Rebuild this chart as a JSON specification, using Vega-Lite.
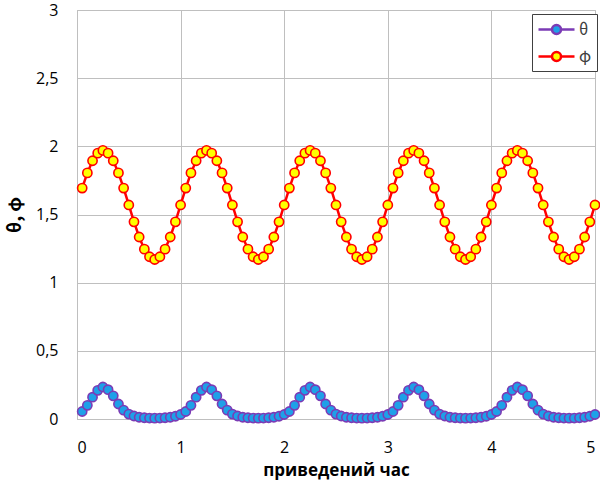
{
  "$schema": "https://vega.github.io/schema/vega-lite/v6.json",
  "width": 518,
  "height": 409,
  "autosize": "none",
  "padding": {"left": 77, "top": 10, "right": 5, "bottom": 64},
  "background": "white",
  "config": {
    "font": "Open Sans",
    "view": {"stroke": "#BFBFBF", "strokeWidth": 1},
    "axis": {"gridColor": "#BFBFBF", "gridWidth": 1, "domainColor": "#BFBFBF", "ticks": false, "labelFont": "Open Sans", "labelFontSize": 16, "labelColor": "#000000", "titleFont": "Open Sans", "titleFontSize": 17, "titleFontWeight": "bold", "titleColor": "#000000"}
  },
  "data": {"values": [
    {"x":0.05,"θ":0.055,"φ":1.694},{"x":0.10,"θ":0.10,"φ":1.805},{"x":0.15,"θ":0.16,"φ":1.894},{"x":0.20,"θ":0.21,"φ":1.950},{"x":0.25,"θ":0.235,"φ":1.970},
    {"x":0.30,"θ":0.215,"φ":1.950},{"x":0.35,"θ":0.17,"φ":1.894},{"x":0.40,"θ":0.11,"φ":1.805},{"x":0.45,"θ":0.065,"φ":1.694},{"x":0.50,"θ":0.036,"φ":1.570},
    {"x":0.55,"θ":0.022,"φ":1.446},{"x":0.60,"θ":0.013,"φ":1.335},{"x":0.65,"θ":0.009,"φ":1.246},{"x":0.70,"θ":0.007,"φ":1.190},{"x":0.75,"θ":0.006,"φ":1.170},
    {"x":0.80,"θ":0.007,"φ":1.190},{"x":0.85,"θ":0.009,"φ":1.246},{"x":0.90,"θ":0.013,"φ":1.335},{"x":0.95,"θ":0.02,"φ":1.446},{"x":1.00,"θ":0.033,"φ":1.570},
    {"x":1.05,"θ":0.055,"φ":1.694},{"x":1.10,"θ":0.10,"φ":1.805},{"x":1.15,"θ":0.16,"φ":1.894},{"x":1.20,"θ":0.21,"φ":1.950},{"x":1.25,"θ":0.235,"φ":1.970},
    {"x":1.30,"θ":0.215,"φ":1.950},{"x":1.35,"θ":0.17,"φ":1.894},{"x":1.40,"θ":0.11,"φ":1.805},{"x":1.45,"θ":0.065,"φ":1.694},{"x":1.50,"θ":0.036,"φ":1.570},
    {"x":1.55,"θ":0.022,"φ":1.446},{"x":1.60,"θ":0.013,"φ":1.335},{"x":1.65,"θ":0.009,"φ":1.246},{"x":1.70,"θ":0.007,"φ":1.190},{"x":1.75,"θ":0.006,"φ":1.170},
    {"x":1.80,"θ":0.007,"φ":1.190},{"x":1.85,"θ":0.009,"φ":1.246},{"x":1.90,"θ":0.013,"φ":1.335},{"x":1.95,"θ":0.02,"φ":1.446},{"x":2.00,"θ":0.033,"φ":1.570},
    {"x":2.05,"θ":0.055,"φ":1.694},{"x":2.10,"θ":0.10,"φ":1.805},{"x":2.15,"θ":0.16,"φ":1.894},{"x":2.20,"θ":0.21,"φ":1.950},{"x":2.25,"θ":0.235,"φ":1.970},
    {"x":2.30,"θ":0.215,"φ":1.950},{"x":2.35,"θ":0.17,"φ":1.894},{"x":2.40,"θ":0.11,"φ":1.805},{"x":2.45,"θ":0.065,"φ":1.694},{"x":2.50,"θ":0.036,"φ":1.570},
    {"x":2.55,"θ":0.022,"φ":1.446},{"x":2.60,"θ":0.013,"φ":1.335},{"x":2.65,"θ":0.009,"φ":1.246},{"x":2.70,"θ":0.007,"φ":1.190},{"x":2.75,"θ":0.006,"φ":1.170},
    {"x":2.80,"θ":0.007,"φ":1.190},{"x":2.85,"θ":0.009,"φ":1.246},{"x":2.90,"θ":0.013,"φ":1.335},{"x":2.95,"θ":0.02,"φ":1.446},{"x":3.00,"θ":0.033,"φ":1.570},
    {"x":3.05,"θ":0.055,"φ":1.694},{"x":3.10,"θ":0.10,"φ":1.805},{"x":3.15,"θ":0.16,"φ":1.894},{"x":3.20,"θ":0.21,"φ":1.950},{"x":3.25,"θ":0.235,"φ":1.970},
    {"x":3.30,"θ":0.215,"φ":1.950},{"x":3.35,"θ":0.17,"φ":1.894},{"x":3.40,"θ":0.11,"φ":1.805},{"x":3.45,"θ":0.065,"φ":1.694},{"x":3.50,"θ":0.036,"φ":1.570},
    {"x":3.55,"θ":0.022,"φ":1.446},{"x":3.60,"θ":0.013,"φ":1.335},{"x":3.65,"θ":0.009,"φ":1.246},{"x":3.70,"θ":0.007,"φ":1.190},{"x":3.75,"θ":0.006,"φ":1.170},
    {"x":3.80,"θ":0.007,"φ":1.190},{"x":3.85,"θ":0.009,"φ":1.246},{"x":3.90,"θ":0.013,"φ":1.335},{"x":3.95,"θ":0.02,"φ":1.446},{"x":4.00,"θ":0.033,"φ":1.570},
    {"x":4.05,"θ":0.055,"φ":1.694},{"x":4.10,"θ":0.10,"φ":1.805},{"x":4.15,"θ":0.16,"φ":1.894},{"x":4.20,"θ":0.21,"φ":1.950},{"x":4.25,"θ":0.235,"φ":1.970},
    {"x":4.30,"θ":0.215,"φ":1.950},{"x":4.35,"θ":0.17,"φ":1.894},{"x":4.40,"θ":0.11,"φ":1.805},{"x":4.45,"θ":0.065,"φ":1.694},{"x":4.50,"θ":0.036,"φ":1.570},
    {"x":4.55,"θ":0.022,"φ":1.446},{"x":4.60,"θ":0.013,"φ":1.335},{"x":4.65,"θ":0.009,"φ":1.246},{"x":4.70,"θ":0.007,"φ":1.190},{"x":4.75,"θ":0.006,"φ":1.170},
    {"x":4.80,"θ":0.007,"φ":1.190},{"x":4.85,"θ":0.009,"φ":1.246},{"x":4.90,"θ":0.013,"φ":1.335},{"x":4.95,"θ":0.02,"φ":1.446},{"x":5.00,"θ":0.033,"φ":1.570}
  ]},
  "transform": [{"fold": ["θ", "φ"], "as": ["series", "value"]}],
  "encoding": {
    "x": {"field": "x", "type": "quantitative", "scale": {"domain": [0, 5], "nice": false}, "axis": {"values": [0,1,2,3,4,5], "title": "приведений час", "labelPadding": 20, "titlePadding": 7}},
    "y": {"field": "value", "type": "quantitative", "scale": {"domain": [0, 3], "nice": false}, "axis": {"values": [0,0.5,1,1.5,2,2.5,3], "labelExpr": "replace(format(datum.value, '~g'), '.', ',')", "title": "θ, φ", "titleFont": "Noto Sans CJK JP", "titleFontSize": 18, "labelPadding": 19, "titlePadding": 11}}
  },
  "layer": [
    {
      "mark": {"type": "line", "strokeWidth": 2.5},
      "encoding": {
        "stroke": {"field": "series", "type": "nominal", "scale": {"domain": ["θ", "φ"], "range": ["#7B3BB5", "#FF0000"]}, "title": null},
        "detail": {"field": "series"}
      }
    },
    {
      "mark": {"type": "point", "filled": false, "size": 85, "strokeWidth": 1.6, "opacity": 1},
      "encoding": {
        "fill": {"field": "series", "type": "nominal", "scale": {"domain": ["θ", "φ"], "range": ["#1EA0E8", "#FFFF00"]}, "title": null,
          "legend": {"orient": "none", "legendX": 455, "legendY": 4, "strokeColor": "#404040", "fillColor": "white", "padding": 5, "symbolType": "M-1,0H0.5M1.5,0H3M1.5,0A0.5,0.5,0,1,1,0.5,0A0.5,0.5,0,1,1,1.5,0Z", "symbolSize": 324, "symbolStrokeWidth": 2.5, "labelFontSize": 16, "labelFont": "Noto Sans CJK JP", "labelColor": "#404040", "labelOffset": 21, "rowPadding": 7}},
        "stroke": {"field": "series", "type": "nominal", "title": null,
          "legend": {"orient": "none", "legendX": 455, "legendY": 4, "strokeColor": "#404040", "fillColor": "white", "padding": 5, "symbolType": "M-1,0H0.5M1.5,0H3M1.5,0A0.5,0.5,0,1,1,0.5,0A0.5,0.5,0,1,1,1.5,0Z", "symbolSize": 324, "symbolStrokeWidth": 2.5, "labelFontSize": 16, "labelFont": "Noto Sans CJK JP", "labelColor": "#404040", "labelOffset": 21, "rowPadding": 7}}
      }
    }
  ]
}
